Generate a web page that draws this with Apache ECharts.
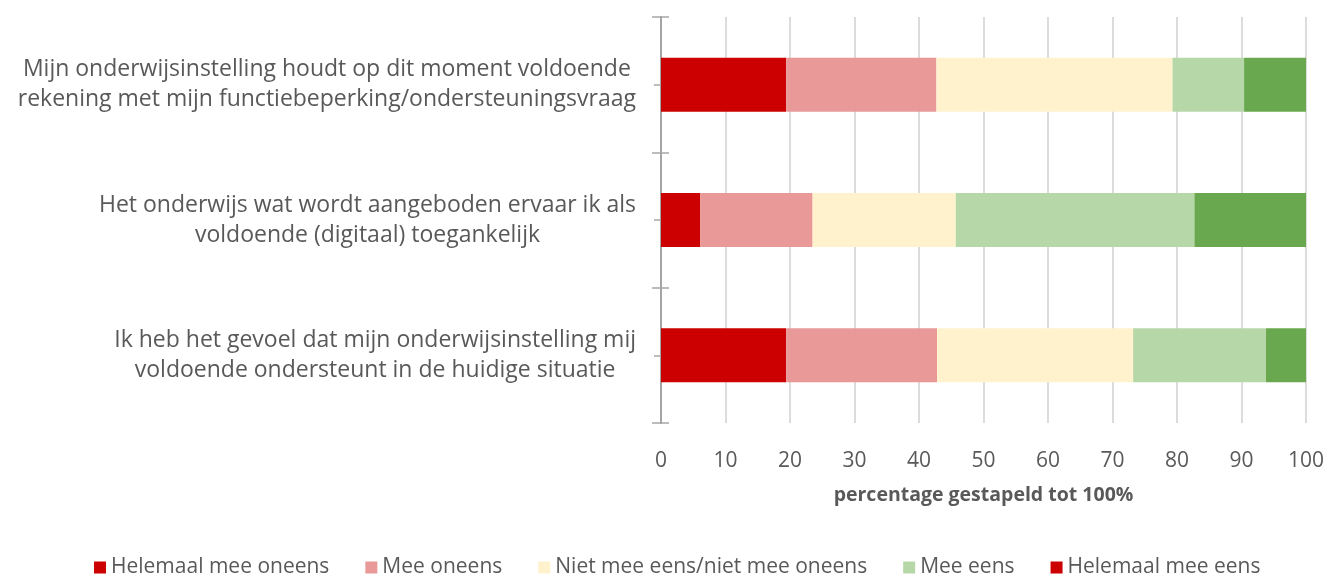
<!DOCTYPE html>
<html>
<head>
<meta charset="utf-8">
<script src="https://cdn.jsdelivr.net/npm/echarts@6/dist/echarts.min.js"></script>
<style>
  html, body { margin: 0; padding: 0; background: #fff; }
  #chart { width: 1328px; height: 574px; }
</style>
</head>
<body>
<div id="chart"></div>
<script>
// statements, top to bottom
var categories = [
  'Mijn onderwijsinstelling houdt op dit moment voldoende\nrekening met mijn functiebeperking/ondersteuningsvraag',
  'Het onderwijs wat wordt aangeboden ervaar ik als\nvoldoende (digitaal) toegankelijk',
  'Ik heb het gevoel dat mijn onderwijsinstelling mij\nvoldoende ondersteunt in de huidige situatie'
]
var seriesNames = ['Helemaal mee oneens', 'Mee oneens', 'Niet mee eens/niet mee oneens', 'Mee eens', 'Helemaal mee eens']
var helemaalOneens = [19.4, 6.1, 19.4]
var meeOneens = [23.3, 17.4, 23.4]
var neutraal = [36.6, 22.2, 30.4]
var meeEens = [11.1, 37.0, 20.6]
var helemaalEens = [9.6, 17.3, 6.2]
var xTicks = [0, 10, 20, 30, 40, 50, 60, 70, 80, 90, 100]

var colors = ['#cc0000', '#ea9999', '#fff2cc', '#b6d7a8', '#6aa84f']
var values = [helemaalOneens, meeOneens, neutraal, meeEens, helemaalEens]
var textColor = '#595959'
var font = 'Open Sans'

var chart = echarts.init(document.getElementById('chart'))

// y axes: one for labels, extra ones only to draw the crossing tick marks
function tickAxis(inside, center, len, labels) {
  return {
    type: 'category',
    inverse: true,
    data: categories,
    position: 'left',
    axisLine: { show: true, lineStyle: { color: '#a6a6a6', width: 1.5 } },
    axisTick: { show: true, inside: inside, alignWithLabel: center, length: len, lineStyle: { color: '#a6a6a6', width: 1.5 } },
    axisLabel: labels ? {
      margin: 25,
      formatter: function (v) {
        return v.split('\n').map(function (s) { return '{c|' + s + '}' }).join('\n')
      },
      rich: {
        c: { align: 'center', fontSize: 23, lineHeight: 30, color: textColor, fontFamily: font }
      }
    } : { show: false },
    splitLine: { show: false }
  }
}

chart.setOption({
  animation: false,
  grid: { left: 661, right: 22, top: 17, bottom: 151 },
  legend: {
    top: 557,
    left: 94,
    padding: 0,
    itemWidth: 12,
    itemHeight: 12,
    itemGap: 36,
    icon: 'rect',
    textStyle: { color: textColor, fontSize: 21, fontFamily: font },
    data: seriesNames.map(function (n, i) {
      // the reference legend shows a red swatch for the last item too
      return { name: n, itemStyle: { color: i === 4 ? colors[0] : colors[i] } }
    })
  },
  xAxis: {
    type: 'value',
    min: xTicks[0],
    max: xTicks[xTicks.length - 1],
    interval: 10,
    name: 'percentage gestapeld tot 100%',
    nameLocation: 'middle',
    nameGap: 62,
    nameTextStyle: { color: textColor, fontSize: 19.5, fontWeight: 'bold', fontFamily: font },
    axisLine: { show: false },
    axisTick: { show: false },
    axisLabel: { margin: 28, color: textColor, fontSize: 21, fontFamily: font },
    splitLine: { show: true, lineStyle: { color: '#d0d0d0', width: 1.5 } }
  },
  yAxis: [
    tickAxis(false, false, 9, true),
    tickAxis(true, false, 8, false),
    tickAxis(false, true, 7, false),
    tickAxis(true, true, 7, false)
  ],
  series: seriesNames.map(function (n, i) {
    return {
      name: n,
      type: 'bar',
      stack: 'total',
      yAxisIndex: 0,
      barWidth: 54,
      itemStyle: { color: colors[i] },
      data: values[i]
    }
  })
})
</script>
</body>
</html>
